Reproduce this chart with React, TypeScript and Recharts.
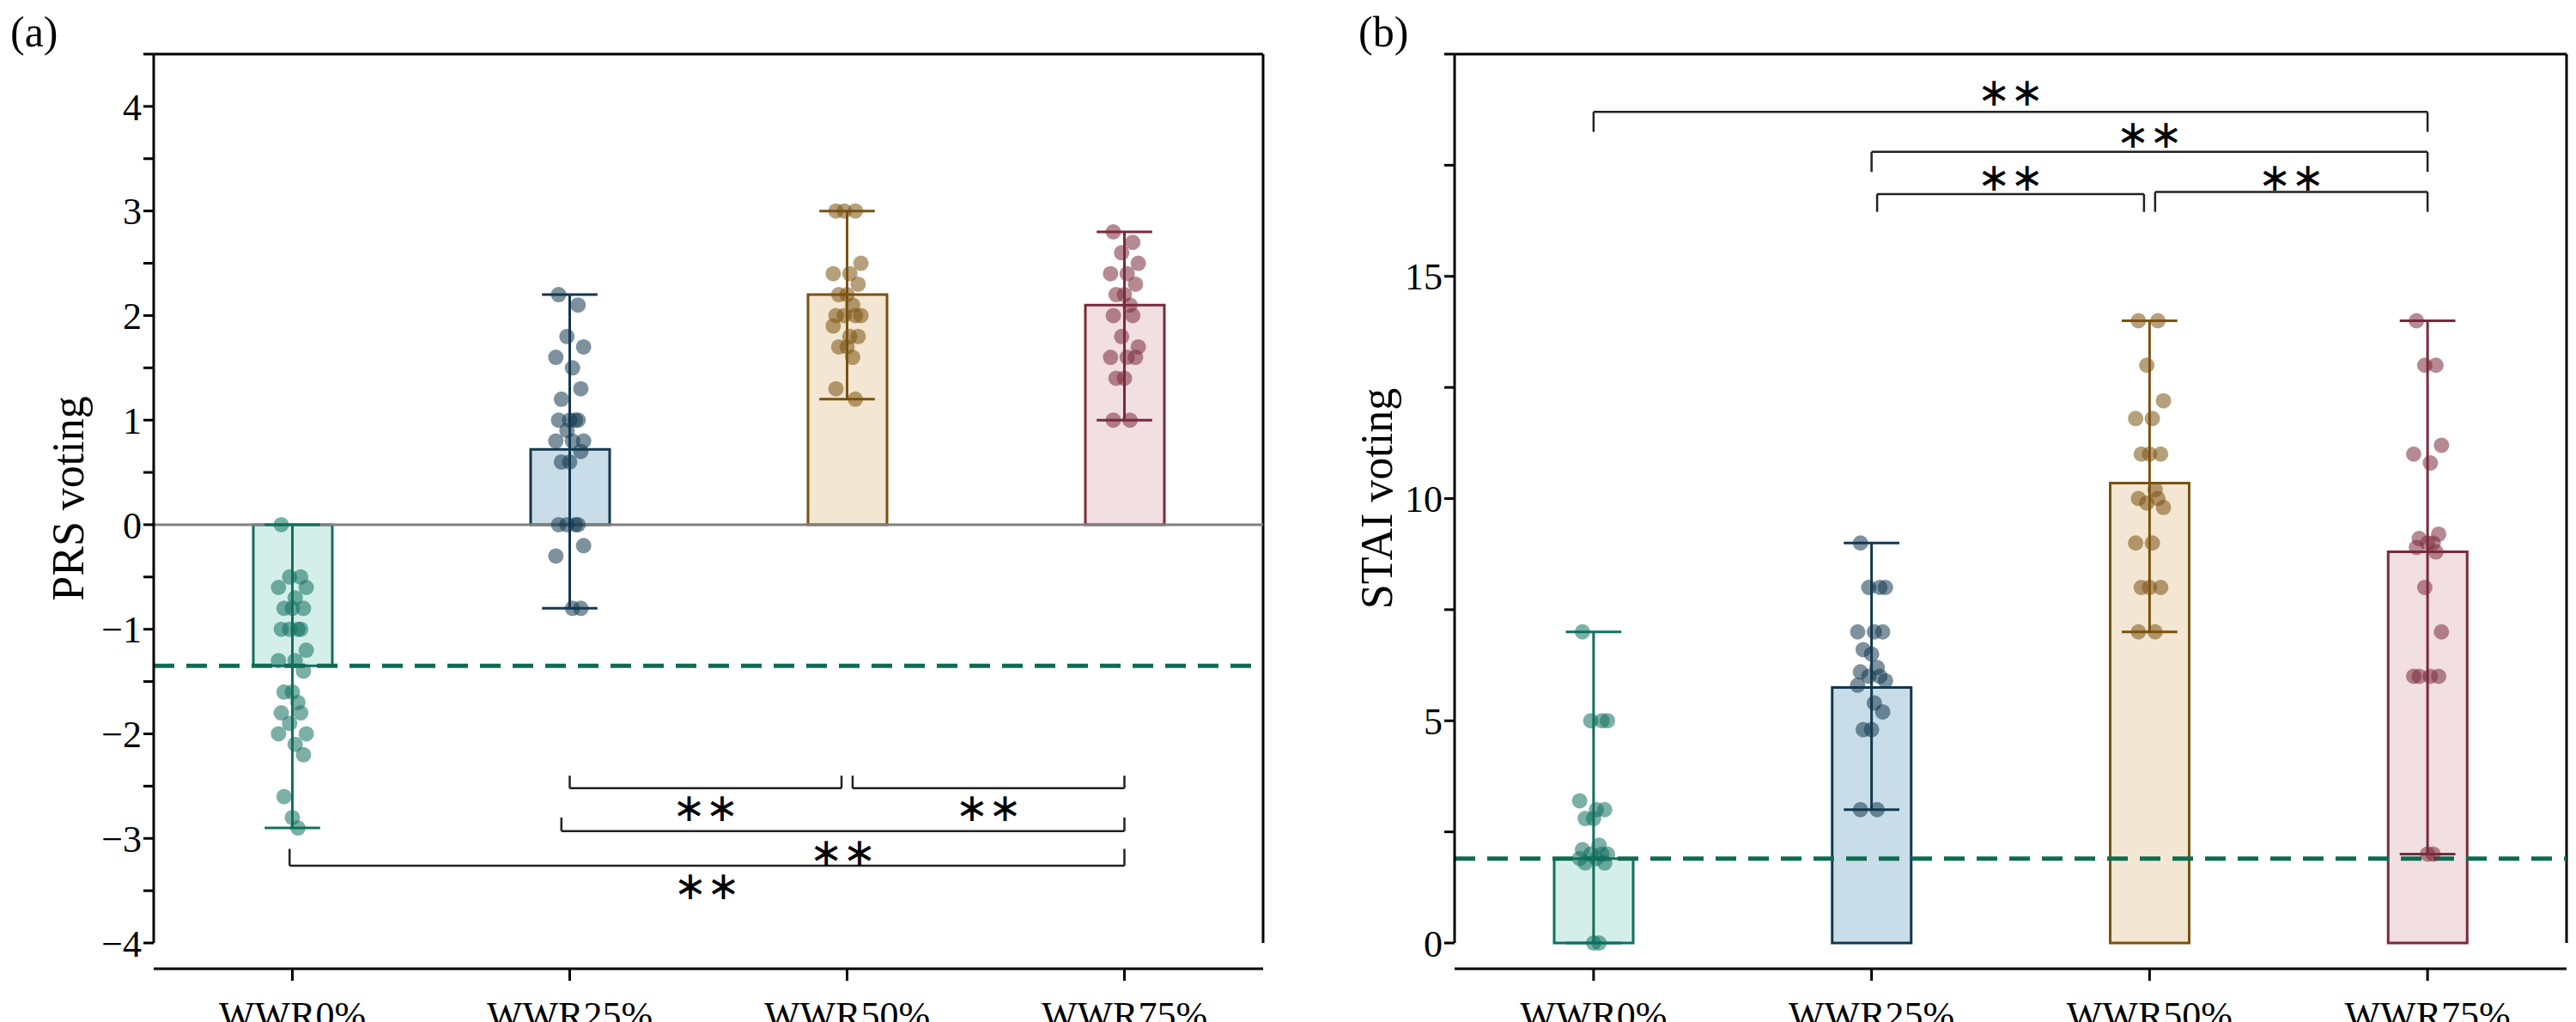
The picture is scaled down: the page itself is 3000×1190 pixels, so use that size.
import React from 'react';
import {
  ComposedChart,
  Bar,
  Cell,
  Scatter,
  XAxis,
  YAxis,
  ReferenceLine,
  ReferenceDot,
} from 'recharts';

const categories = ['WWR0%', 'WWR25%', 'WWR50%', 'WWR75%'];
const strokeColors = ['#11705e', '#12384f', '#7a5210', '#7a2a3a'];
const fillColors = ['#d4efe9', '#c9dde8', '#f3e6d2', '#f1dfe2'];

// PRS voting (panel a)
const prsMean = [-1.35, 0.72, 2.2, 2.1];
const prsMin = [-2.9, -0.8, 1.2, 1.0];
const prsMax = [0, 2.2, 3.0, 2.8];
const prsPoints = [
  [0, -0.5, -0.5, -0.6, -0.6, -0.7, -0.8, -0.8, -0.8, -1, -1, -1, -1, -1.2, -1.3, -1.3, -1.4, -1.6, -1.6, -1.7, -1.8, -1.8, -1.9, -2, -2, -2.1, -2.2, -2.6, -2.8, -2.9],
  [2.2, 2.1, 1.8, 1.7, 1.6, 1.5, 1.3, 1.2, 1, 1, 1, 1, 0.9, 0.8, 0.8, 0.8, 0.7, 0.6, 0.6, 0, 0, 0, 0, -0.2, -0.3, -0.8, -0.8],
  [3, 3, 3, 2.5, 2.4, 2.4, 2.3, 2.2, 2.2, 2.1, 2, 2, 2, 2, 1.9, 1.8, 1.8, 1.7, 1.7, 1.6, 1.3, 1.2],
  [2.8, 2.7, 2.6, 2.5, 2.4, 2.4, 2.3, 2.2, 2.2, 2.1, 2, 2, 1.8, 1.7, 1.6, 1.6, 1.6, 1.4, 1.4, 1, 1],
];
const prsBaseline = -1.35;
const prsTicks = [-4, -3.5, -3, -2.5, -2, -1.5, -1, -0.5, 0, 0.5, 1, 1.5, 2, 2.5, 3, 3.5, 4, 4.5];
// [from, to, bracket y, end y, star y]
const prsBrackets = [
  [1, 1.98, -2.52, -2.4, -2.7],
  [2.02, 3, -2.52, -2.4, -2.7],
  [0.97, 3, -2.93, -2.8, -3.13],
  [-0.01, 3, -3.26, -3.1, -3.45],
];

// STAI voting (panel b)
const staiMean = [1.9, 5.75, 10.35, 8.8];
const staiMin = [0, 3, 7, 2];
const staiMax = [7, 9, 14, 14];
const staiPoints = [
  [7, 5, 5, 5, 3.2, 3, 3, 2.8, 2.8, 2.2, 2.1, 2, 2, 2, 1.9, 1.9, 1.8, 1.8, 0, 0],
  [9, 8, 8, 8, 7, 7, 7, 6.6, 6.5, 6.2, 6.1, 6, 6, 5.9, 5.8, 5.4, 5.2, 4.8, 4.8, 3, 3],
  [14, 14, 13, 12.2, 11.8, 11.8, 11, 11, 11, 10.2, 10, 10, 9.9, 9.8, 9, 9, 8, 8, 8, 7, 7],
  [14, 13, 13, 11.2, 11, 10.8, 9.2, 9.1, 9, 9, 8.9, 8.8, 8, 7, 6, 6, 6, 6, 2, 2],
];
const staiBaseline = 1.9;
const staiTicks = [0, 2.5, 5, 7.5, 10, 12.5, 15, 17.5, 20];
const staiBrackets = [
  [0, 3, 18.7, 18.25, 19.15],
  [1, 3, 17.8, 17.35, 18.2],
  [1.02, 1.98, 16.85, 16.45, 17.25],
  [2.02, 3, 16.9, 16.45, 17.25],
];

const font = "'Times New Roman', 'Liberation Serif', serif";
const jitter = [-0.04, 0.03, -0.01, 0.05, -0.05, 0.01, 0.04, -0.03, 0.0, 0.02];

interface PanelProps {
  left: number;
  tag: string;
  yLabel: string;
  means: number[];
  mins: number[];
  maxs: number[];
  points: number[][];
  baseline: number;
  ticks: number[];
  domain: [number, number];
  brackets: number[][];
  labelStep: number;
  marginLeft: number;
  marginRight: number;
  labelOffset: number;
  showZero: boolean;
}

const Panel: React.FC<PanelProps> = (p) => {
  const barData = categories.map((c, i) => ({ x: i, name: c, mean: p.means[i] }));
  return (
    <div style={{ position: 'absolute', left: p.left, top: 0, width: 1500, height: 1190, fontFamily: font }}>
      <div style={{ position: 'absolute', left: p.tag === '(a)' ? 12 : 82, top: 8, fontFamily: font, fontSize: 50 }}>{p.tag}</div>
      <ComposedChart
        width={1500}
        height={1190}
        data={barData}
        margin={{ top: 63, right: p.marginRight, left: p.marginLeft, bottom: 12 }}
      >
        <XAxis xAxisId="cat" dataKey="name" type="category" hide />
        <XAxis
          xAxisId="main"
          dataKey="x"
          type="number"
          domain={[-0.5, 3.5]}
          ticks={[0, 1, 2, 3]}
          tickFormatter={(v) => categories[v]}
          tick={{ fill: '#000', fontSize: 44, fontFamily: font, dy: 22 }}
          tickSize={14}
          axisLine={{ stroke: '#000', strokeWidth: 3 }}
          tickLine={{ stroke: '#000', strokeWidth: 3 }}
          height={80}
          allowDataOverflow
        />
        <YAxis
          yAxisId="main"
          type="number"
          domain={p.domain}
          ticks={p.ticks}
          interval={0}
          tickFormatter={(v) => (Math.abs(v / p.labelStep - Math.round(v / p.labelStep)) < 1e-6 && v !== p.domain[1] ? String(v).replace('-', '−') : '')}
          tick={{ fill: '#000', fontSize: 44, fontFamily: font }}
          tickSize={12}
          axisLine={{ stroke: '#000', strokeWidth: 3 }}
          tickLine={{ stroke: '#000', strokeWidth: 3 }}
          width={100}
          label={{ value: p.yLabel, angle: -90, position: 'insideLeft', offset: p.labelOffset, style: { fontSize: 52, fontFamily: font, fill: '#000', textAnchor: 'middle' } }}
        />
        <ReferenceLine xAxisId="main" yAxisId="main" x={3.5} stroke="#000" strokeWidth={3} />
        <ReferenceLine xAxisId="main" yAxisId="main" y={p.domain[1]} stroke="#000" strokeWidth={3} />
        {p.showZero && (
          <ReferenceLine xAxisId="main" yAxisId="main" y={0} stroke="#808080" strokeWidth={3} />
        )}
        <Bar xAxisId="cat" yAxisId="main" dataKey="mean" barSize={92} isAnimationActive={false} strokeWidth={3}>
          {barData.map((d, i) => (
            <Cell key={i} fill={fillColors[i]} stroke={strokeColors[i]} />
          ))}
        </Bar>
        {categories.map((c, i) => (
          <ReferenceLine key={'w' + i} xAxisId="main" yAxisId="main" stroke={strokeColors[i]} strokeWidth={3}
            segment={[{ x: i, y: p.mins[i] }, { x: i, y: p.maxs[i] }]} />
        ))}
        {categories.map((c, i) => (
          <ReferenceLine key={'ct' + i} xAxisId="main" yAxisId="main" stroke={strokeColors[i]} strokeWidth={3}
            segment={[{ x: i - 0.1, y: p.maxs[i] }, { x: i + 0.1, y: p.maxs[i] }]} />
        ))}
        {categories.map((c, i) => (
          <ReferenceLine key={'cb' + i} xAxisId="main" yAxisId="main" stroke={strokeColors[i]} strokeWidth={3}
            segment={[{ x: i - 0.1, y: p.mins[i] }, { x: i + 0.1, y: p.mins[i] }]} />
        ))}
        {categories.map((c, i) => (
          <Scatter
            key={'s' + i}
            xAxisId="main"
            yAxisId="main"
            data={p.points[i].map((v, k) => ({ x: i + jitter[k % jitter.length], mean: v }))}
            dataKey="mean"
            fill={strokeColors[i]}
            shape={(props: any) => <circle cx={props.cx} cy={props.cy} r={9} fill={strokeColors[i]} fillOpacity={0.55} />}
            isAnimationActive={false}
          />
        ))}
        <ReferenceLine xAxisId="main" yAxisId="main" y={p.baseline} stroke="#0e6b52" strokeWidth={5} strokeDasharray="24 14" />
        {p.brackets.map((b, i) => (
          <ReferenceLine key={'bh' + i} xAxisId="main" yAxisId="main" stroke="#222" strokeWidth={2.5}
            segment={[{ x: b[0], y: b[2] }, { x: b[1], y: b[2] }]} />
        ))}
        {p.brackets.map((b, i) => (
          <ReferenceLine key={'bl' + i} xAxisId="main" yAxisId="main" stroke="#222" strokeWidth={2.5}
            segment={[{ x: b[0], y: b[2] }, { x: b[0], y: b[3] }]} />
        ))}
        {p.brackets.map((b, i) => (
          <ReferenceLine key={'br' + i} xAxisId="main" yAxisId="main" stroke="#222" strokeWidth={2.5}
            segment={[{ x: b[1], y: b[2] }, { x: b[1], y: b[3] }]} />
        ))}
        {p.brackets.map((b, i) => (
          <ReferenceDot key={'st' + i} xAxisId="main" yAxisId="main" x={(b[0] + b[1]) / 2} y={b[4]} r={0}
            fill="none" stroke="none"
            label={{ value: '∗∗', position: 'center', fontSize: 46, fontFamily: 'DejaVu Sans', fill: '#000' }} />
        ))}
      </ComposedChart>
    </div>
  );
};

export default function App() {
  return (
    <div style={{ position: 'absolute', left: 0, top: 0, width: 3000, height: 1190, background: '#fff' }}>
      <Panel left={0} tag="(a)" yLabel="PRS voting" means={prsMean} mins={prsMin} maxs={prsMax}
        points={prsPoints} baseline={prsBaseline} ticks={prsTicks} domain={[-4, 4.5]} brackets={prsBrackets}
        labelStep={1} marginLeft={79} marginRight={29} labelOffset={0} showZero />
      <Panel left={1500} tag="(b)" yLabel="STAI voting" means={staiMean} mins={staiMin} maxs={staiMax}
        points={staiPoints} baseline={staiBaseline} ticks={staiTicks} domain={[0, 20]} brackets={staiBrackets}
        labelStep={5} marginLeft={94} marginRight={11} labelOffset={9} showZero={false} />
    </div>
  );
}
